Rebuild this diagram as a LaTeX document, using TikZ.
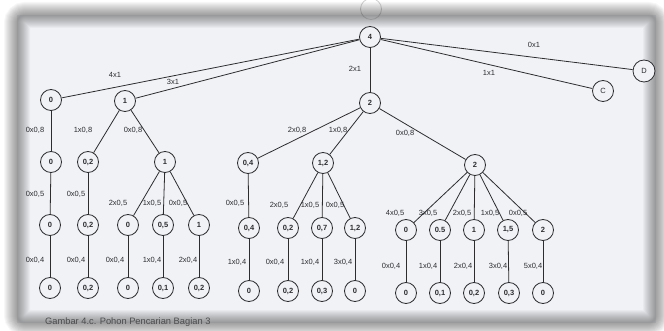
\documentclass[tikz,border=0pt]{standalone}
\usepackage{fontspec}
\setmainfont{Liberation Sans}
\definecolor{pagebg}{RGB}{240,242,245}
\definecolor{ink}{RGB}{45,45,48}
\tikzset{
  nd/.style={circle, draw=ink, line width=0.8pt, minimum size=21pt, inner sep=0pt, fill=pagebg, font=\fontsize{7.5}{8}\selectfont\bfseries, text=ink},
  edge/.style={draw=ink, line width=0.8pt},
  lbl/.style={font=\fontsize{7.5}{8}\selectfont, text=ink, inner sep=0pt},
}
\begin{document}
\begin{tikzpicture}[x=1pt,y=-1pt]
\useasboundingbox (0,0) rectangle (664,331);
\fill[white] (0,0) rectangle (664,331);
\fill[pagebg] (17,15) rectangle (656,323);
% faint node at top, partly hidden
\node[nd, draw=gray!35, fill=none] (top) at (371,9) {};
% soft shadow frame
\foreach \w in {2,4,...,26} \draw[line width=\w pt, black, opacity=0.03, rounded corners=8pt] (17,15) rectangle (656,323);

% nodes
\node[nd] (r) at (370,37) {4};
\node[nd, font=\fontsize{7.5}{8}\selectfont, minimum size=22pt] (D) at (644,71) {D};
\node[nd, font=\fontsize{7.5}{8}\selectfont] (C) at (603,91) {C};
\node[nd] (a) at (51,100) {0};
\node[nd] (b) at (125,101) {1};
\node[nd] (m) at (370,103) {2};

\node[nd] (aa) at (51,162) {0};
\node[nd] (ba) at (88,162) {0,2};
\node[nd] (bb) at (165,162) {1};
\node[nd] (ma) at (248,163) {0,4};
\node[nd] (mb) at (323,163) {1,2};
\node[nd] (mc) at (475,165) {2};

\node[nd] (aaa) at (50,225) {0};
\node[nd] (baa) at (88,225) {0,2};
\node[nd] (bba) at (128,225) {0};
\node[nd] (bbb) at (163,225) {0,5};
\node[nd] (bbc) at (199,225) {1};
\node[nd] (maa) at (249,228) {0,4};
\node[nd] (mba) at (288,228) {0,2};
\node[nd] (mbb) at (322,228) {0,7};
\node[nd] (mbc) at (355,228) {1,2};
\node[nd] (mca) at (406,230) {0};
\node[nd] (mcb) at (440,230) {0.5};
\node[nd] (mcc) at (474,230) {1};
\node[nd] (mcd) at (508,230) {1,5};
\node[nd] (mce) at (543,230) {2};

\node[nd] (aaaa) at (50,288) {0};
\node[nd] (baaa) at (88,288) {0,2};
\node[nd] (bbaa) at (128,288) {0};
\node[nd] (bbba) at (163,288) {0,1};
\node[nd] (bbca) at (199,288) {0,2};
\node[nd] (maaa) at (249,291) {0};
\node[nd] (mbaa) at (288,291) {0,2};
\node[nd] (mbba) at (322,291) {0,3};
\node[nd] (mbca) at (355,291) {0};
\node[nd] (mcaa) at (406,293) {0};
\node[nd] (mcba) at (440,293) {0,1};
\node[nd] (mcca) at (474,293) {0,2};
\node[nd] (mcda) at (509,293) {0,3};
\node[nd] (mcea) at (543,293) {0};

% edges
\foreach \p/\c in {r/a, r/b, r/m, r/C, r/D,
  a/aa, b/ba, b/bb, m/ma, m/mb, m/mc,
  aa/aaa, ba/baa, bb/bba, bb/bbb, bb/bbc, ma/maa, mb/mba, mb/mbb, mb/mbc,
  mc/mca, mc/mcb, mc/mcc, mc/mcd, mc/mce,
  aaa/aaaa, baa/baaa, bba/bbaa, bbb/bbba, bbc/bbca, maa/maaa, mba/mbaa, mbb/mbba, mbc/mbca,
  mca/mcaa, mcb/mcba, mcc/mcca, mcd/mcda, mce/mcea}
  \draw[edge] (\p) -- (\c);

% labels
\node[lbl] (l1) at (115,75) {4x1};
\node[lbl] (l2) at (173,82) {3x1};
\node[lbl] (l3) at (355,69) {2x1};
\node[lbl] (l4) at (489,73) {1x1};
\node[lbl] (l5) at (534,45) {0x1};

\node[lbl] (l6) at (35,130) {0x0,8};
\node[lbl] (l7) at (83,130) {1x0,8};
\node[lbl] (l8) at (133,130) {0x0,8};
\node[lbl] (l9) at (297,130) {2x0,8};
\node[lbl] (l10) at (338,130) {1x0,8};
\node[lbl] (l11) at (405,133) {0x0,8};

\node[lbl] (l12) at (35,194) {0x0,5};
\node[lbl] (l13) at (76,194) {0x0,5};
\node[lbl] (l14) at (118,203) {2x0,5};
\node[lbl] (l15) at (152,203) {1x0,5};
\node[lbl] (l16) at (178,203) {0x0,5};
\node[lbl] (l17) at (235,203) {0x0,5};
\node[lbl] (l18) at (279,205) {2x0,5};
\node[lbl] (l19) at (310,205) {1x0,5};
\node[lbl] (l20) at (335,205) {0x0,5};
\node[lbl] (l21) at (395,213) {4x0,5};
\node[lbl] (l22) at (428,213) {3x0,5};
\node[lbl] (l23) at (462,213) {2x0,5};
\node[lbl] (l24) at (490,213) {1x0,5};
\node[lbl] (l25) at (518,213) {0x0,5};

\node[lbl] (l26) at (35,260) {0x0,4};
\node[lbl] (l27) at (76,260) {0x0,4};
\node[lbl] (l28) at (115,260) {0x0,4};
\node[lbl] (l29) at (152,260) {1x0,4};
\node[lbl] (l30) at (188,260) {2x0,4};
\node[lbl] (l31) at (237,262) {1x0,4};
\node[lbl] (l32) at (275,262) {0x0,4};
\node[lbl] (l33) at (310,262) {1x0,4};
\node[lbl] (l34) at (343,262) {3x0,4};
\node[lbl] (l35) at (391,266) {0x0,4};
\node[lbl] (l36) at (428,266) {1x0,4};
\node[lbl] (l37) at (463,266) {2x0,4};
\node[lbl] (l38) at (498,266) {3x0,4};
\node[lbl] (l39) at (533,266) {5x0,4};

\node[anchor=west, inner sep=0pt, font=\fontsize{9.3}{10}\selectfont, text=ink!85] (cap) at (45,322) {Gambar 4.c. Pohon Pencarian Bagian 3};
\end{tikzpicture}
\end{document}
